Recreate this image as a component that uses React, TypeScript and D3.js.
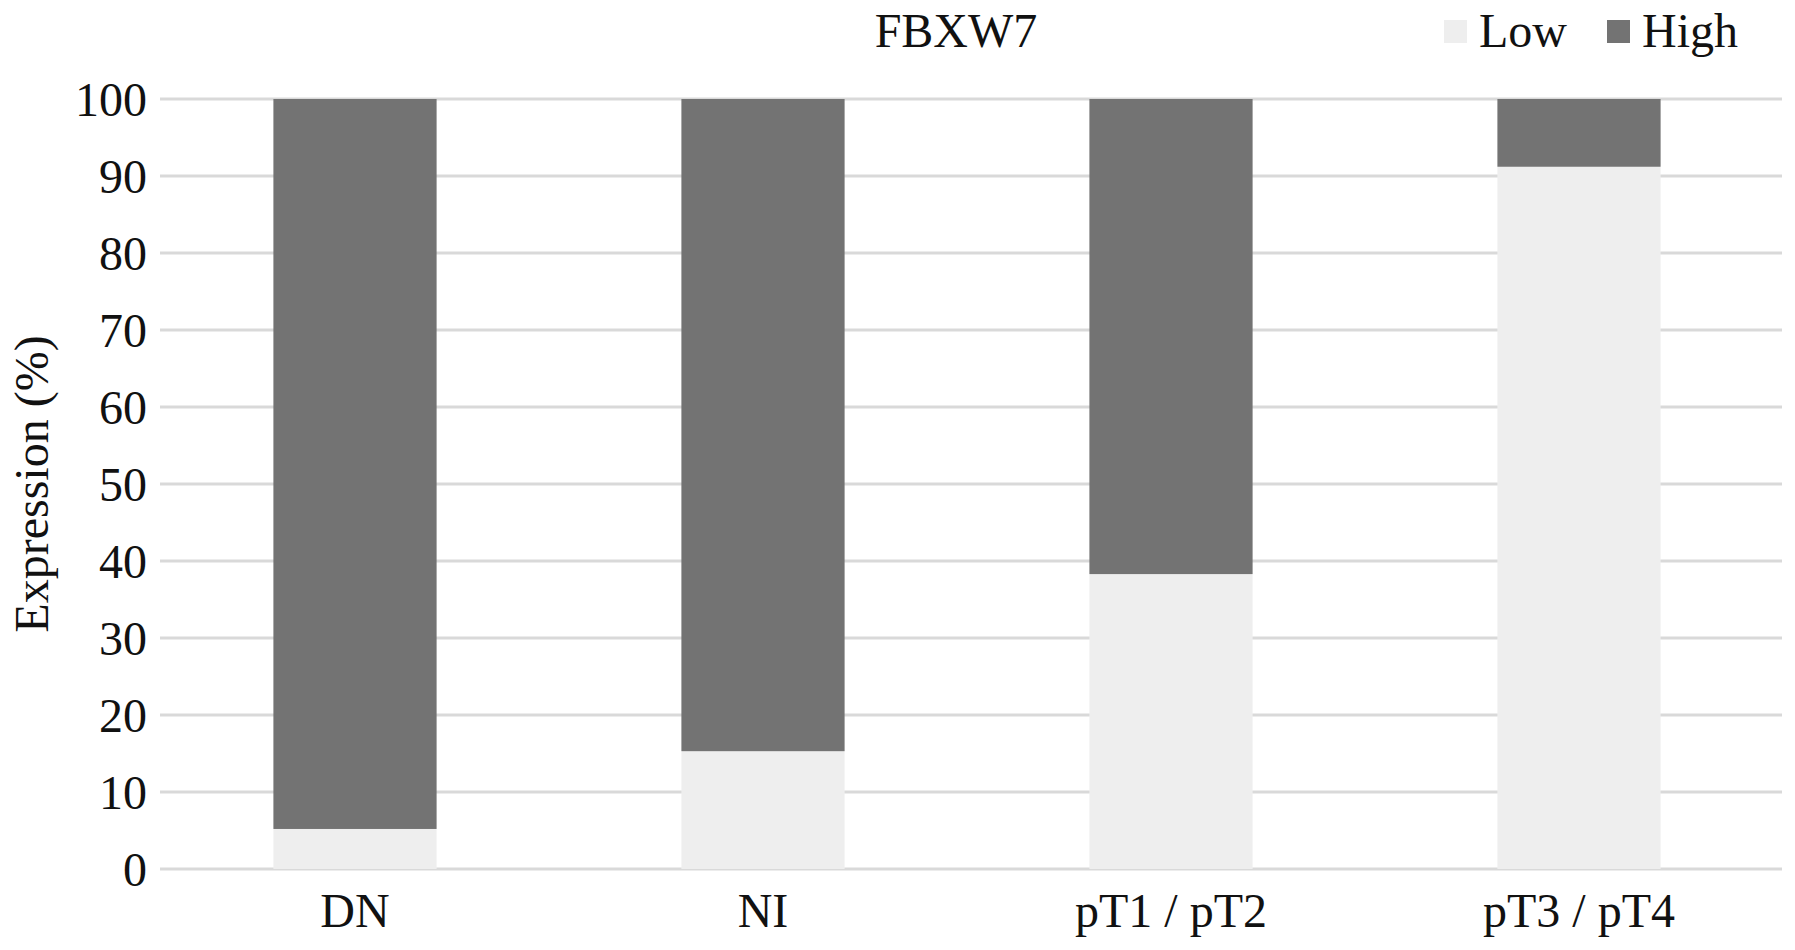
import React from 'react';
import { scaleBand, scaleLinear, stack } from 'd3';

const categories = ['DN', 'NI', 'pT1 / pT2', 'pT3 / pT4'];
const lowValues = [5.2, 15.3, 38.3, 91.2];
const highValues = [94.8, 84.7, 61.7, 8.8];
const seriesNames = ['Low', 'High'];
const yTicks = [0, 10, 20, 30, 40, 50, 60, 70, 80, 90, 100];

const colors: Record<string, string> = {
  Low: '#eeeeee',
  High: '#737373',
};

const W = 1795;
const H = 950;
const font = '"Liberation Serif", "Times New Roman", serif';

const App = () => {
  const rows = categories.map((c, i) => ({ cat: c, Low: lowValues[i], High: highValues[i] }));
  const series = stack<any>().keys(seriesNames)(rows);

  const x = scaleBand().domain(categories).range([151, 1783]).paddingInner(0.6).paddingOuter(0.3);
  const y = scaleLinear().domain([0, 100]).range([869, 99]);

  const gridLeft = 160;
  const gridRight = 1782;

  return (
    <svg width={W} height={H} viewBox={`0 0 ${W} ${H}`}
      style={{ position: 'absolute', left: 0, top: 0, background: '#fff' }}
      fontFamily={font}>
      <rect x={0} y={0} width={W} height={H} fill="#fff" />

      {/* gridlines */}
      {yTicks.map(t => (
        <line key={t} x1={gridLeft} x2={gridRight} y1={y(t)} y2={y(t)}
          stroke="#d9d9d9" strokeWidth={3} />
      ))}

      {/* stacked bars */}
      {series.map(s => (
        <g key={s.key} fill={colors[s.key]}>
          {s.map((d: any) => (
            <rect key={d.data.cat}
              x={x(d.data.cat)}
              y={y(d[1])}
              width={x.bandwidth()}
              height={y(d[0]) - y(d[1])} />
          ))}
        </g>
      ))}

      {/* y tick labels */}
      {yTicks.map(t => (
        <text key={t} x={147} y={y(t)} dy="0.35em" textAnchor="end" fontSize={48} fill="#111">{t}</text>
      ))}

      {/* category labels */}
      {categories.map(c => (
        <text key={c} x={(x(c) ?? 0) + x.bandwidth() / 2} y={927} textAnchor="middle" fontSize={48} fill="#111">{c}</text>
      ))}

      {/* y axis title */}
      <text transform={`translate(48, ${(y(0) + y(100)) / 2}) rotate(-90)`} textAnchor="middle"
        fontSize={48} fill="#111">Expression (%)</text>

      {/* chart title */}
      <text x={956} y={47} textAnchor="middle" fontSize={48} fill="#111">FBXW7</text>

      {/* legend */}
      <rect x={1444} y={20} width={23} height={23} fill={colors.Low} />
      <text x={1479} y={47} fontSize={48} fill="#111">Low</text>
      <rect x={1607} y={20} width={23} height={23} fill={colors.High} />
      <text x={1642} y={47} fontSize={48} fill="#111">High</text>
    </svg>
  );
};

export default App;
